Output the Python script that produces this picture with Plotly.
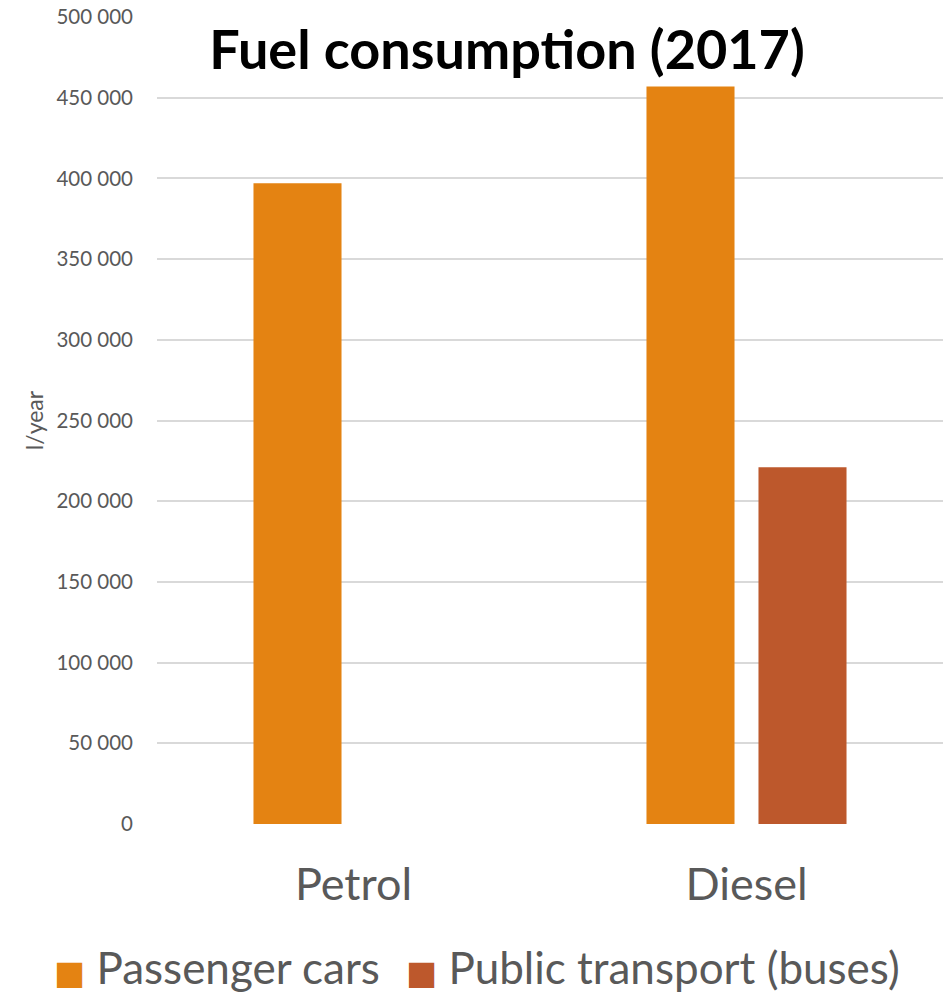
import plotly.graph_objects as go

categories = ["Petrol", "Diesel"]
series_names = ["Passenger cars", "Public transport (buses)"]
passenger_cars = [397000, 457000]
public_transport = [None, 221000]
series_colors = ["#E48312", "#BD582C"]
title_text = "Fuel consumption (2017)"
y_title = "l/year"
y_ticks = [0, 50000, 100000, 150000, 200000, 250000, 300000, 350000, 400000, 450000, 500000]

FONT = "Lato"
GREY = "#595959"
W, H = 949, 992

fig = go.Figure()
for name, vals, col in zip(series_names, [passenger_cars, public_transport], series_colors):
    fig.add_trace(go.Bar(x=categories, y=vals, name=name, marker_color=col,
                         marker_line_width=0, showlegend=False))

fig.update_layout(
    width=W, height=H,
    margin=dict(l=157, r=6, t=17, b=168),
    paper_bgcolor="white", plot_bgcolor="white",
    barmode="group", bargap=0.43, bargroupgap=0.214,
    separators=". ",
    font=dict(family=FONT, color=GREY),
    title=dict(text="<b>" + title_text + "</b>", x=507 / W, y=1 - 50 / H,
               xanchor="center", yanchor="middle",
               font=dict(family=FONT, size=54, color="black")),
)
fig.update_yaxes(range=[0, 500000], tickmode="array", tickvals=y_ticks, tickformat=",.0f",
                 showgrid=True, gridcolor="#D9D9D9", gridwidth=1.5,
                 zeroline=False, showline=False, automargin=False,
                 ticklabeloverflow="allow",
                 tickfont=dict(size=20.5, color=GREY, family=FONT),
                 ticklabelstandoff=23,
                 title=dict(text=y_title, font=dict(size=23, color=GREY, family=FONT), standoff=6))
fig.update_xaxes(showgrid=False, showline=False, ticks="", automargin=False,
                 tickfont=dict(size=45, color=GREY, family=FONT),
                 ticklabelstandoff=30)

# custom legend below the plot
legend_x = [(58 - 6 - 157) / 786, (410 - 6 - 157) / 786]
for name, col, lx in zip(series_names, series_colors, legend_x):
    fig.add_annotation(xref="paper", yref="paper", x=lx, y=-(967 - 824) / 807,
                       xanchor="left", yanchor="middle", showarrow=False,
                       text=f"<span style='color:{col};font-family:DejaVu Sans;font-size:33px'>■</span> {name}",
                       font=dict(size=44, color=GREY, family=FONT))

fig.write_html("out.html", config={"displayModeBar": False},
               post_script="document.body.style.margin='0px';document.body.style.overflow='hidden';")
